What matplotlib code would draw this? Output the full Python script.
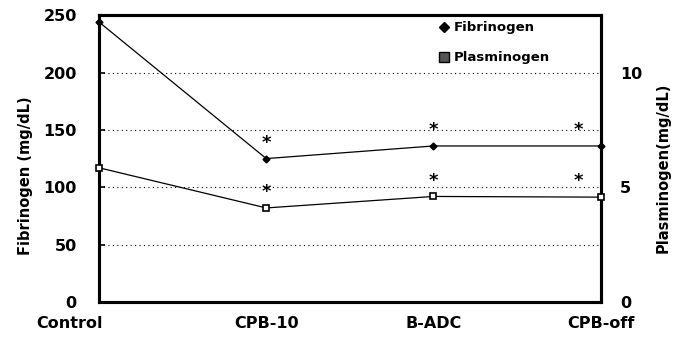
import numpy as np
import matplotlib.pyplot as plt
import matplotlib.transforms as mtransforms

plt.rcParams['font.family'] = ['DejaVu Sans']
plt.rcParams['font.weight'] = 'bold'
plt.rcParams['axes.labelweight'] = 'bold'

groups = ['Control', 'CPB-10', 'B-ADC', 'CPB-off']
fibrinogen = [244, 125, 136, 136]        # mg/dL, left axis
plasminogen = [5.85, 4.1, 4.6, 4.57]     # mg/dL, right axis
fib_sig = [False, True, True, True]
pla_sig = [False, True, True, True]

x = np.arange(len(groups))

fig = plt.figure(figsize=(6.78, 3.44), dpi=100)
ax = fig.add_axes([0.146, 0.122, 0.740, 0.834])
ax2 = ax.twinx()

ax.plot(x, fibrinogen, color='black', lw=0.9, marker='D', ms=3.5,
        mfc='black', mec='black', clip_on=False, zorder=3)
ax2.plot(x, plasminogen, color='black', lw=0.9, marker='s', ms=4.5,
         mfc='white', mec='black', mew=1.2, clip_on=False, zorder=3)

# significance asterisks
for i in range(len(groups)):
    dx = -16 if i == len(groups) - 1 else 0
    if fib_sig[i]:
        ax.annotate('*', (x[i], fibrinogen[i]), xytext=(dx, 5),
                    textcoords='offset points', ha='center', va='bottom',
                    fontsize=13)
    if pla_sig[i]:
        ax2.annotate('*', (x[i], plasminogen[i]), xytext=(dx, 5),
                     textcoords='offset points', ha='center', va='bottom',
                     fontsize=13)

ax.set_xlim(0, 3)
ax.set_ylim(0, 250)
ax2.set_ylim(0, 12.5)
ax.set_yticks([0, 50, 100, 150, 200, 250])
ax2.set_yticks([0, 5, 10])
ax.set_xticks(x)
ax.set_xticklabels(groups, fontsize=11.5)
ax.tick_params(axis='x', length=0, pad=10)
ax.tick_params(axis='y', direction='in', length=4, width=1.2, labelsize=11.5, pad=16)
ax2.tick_params(axis='y', length=0, labelsize=11.5, pad=14)

# shift "Control" label left of the axis
lbl = ax.get_xticklabels()[0]
lbl.set_transform(lbl.get_transform() + mtransforms.ScaledTranslation(-0.29, 0, fig.dpi_scale_trans))

for yv in [50, 100, 150, 200]:
    ax.axhline(yv, color='black', lw=0.8, ls=(0, (1, 3)), zorder=1)

for sp in ax.spines.values():
    sp.set_linewidth(2.2)
for sp in ax2.spines.values():
    sp.set_linewidth(2.2)

ax.set_ylabel('Fibrinogen (mg/dL)', fontsize=10.5)
ax.yaxis.set_label_coords(-0.132, 0.44)
ax2.set_ylabel('Plasminogen(mg/dL)', fontsize=10.5, rotation=90)
ax2.yaxis.set_label_coords(1.11, 0.467)

h1 = plt.Line2D([], [], color='black', marker='D', ls='none', ms=5)
h2 = plt.Line2D([], [], color='black', marker='s', ls='none', ms=7, mfc='#555555')
ax2.legend([h1, h2], ['Fibrinogen', 'Plasminogen'], loc='upper left',
           bbox_to_anchor=(0.65, 1.02), frameon=False,
           prop={'size': 9.5, 'weight': 'bold'},
           handletextpad=0.3, handlelength=1.0, labelspacing=1.3)

fig.savefig('out.png', dpi=100)
